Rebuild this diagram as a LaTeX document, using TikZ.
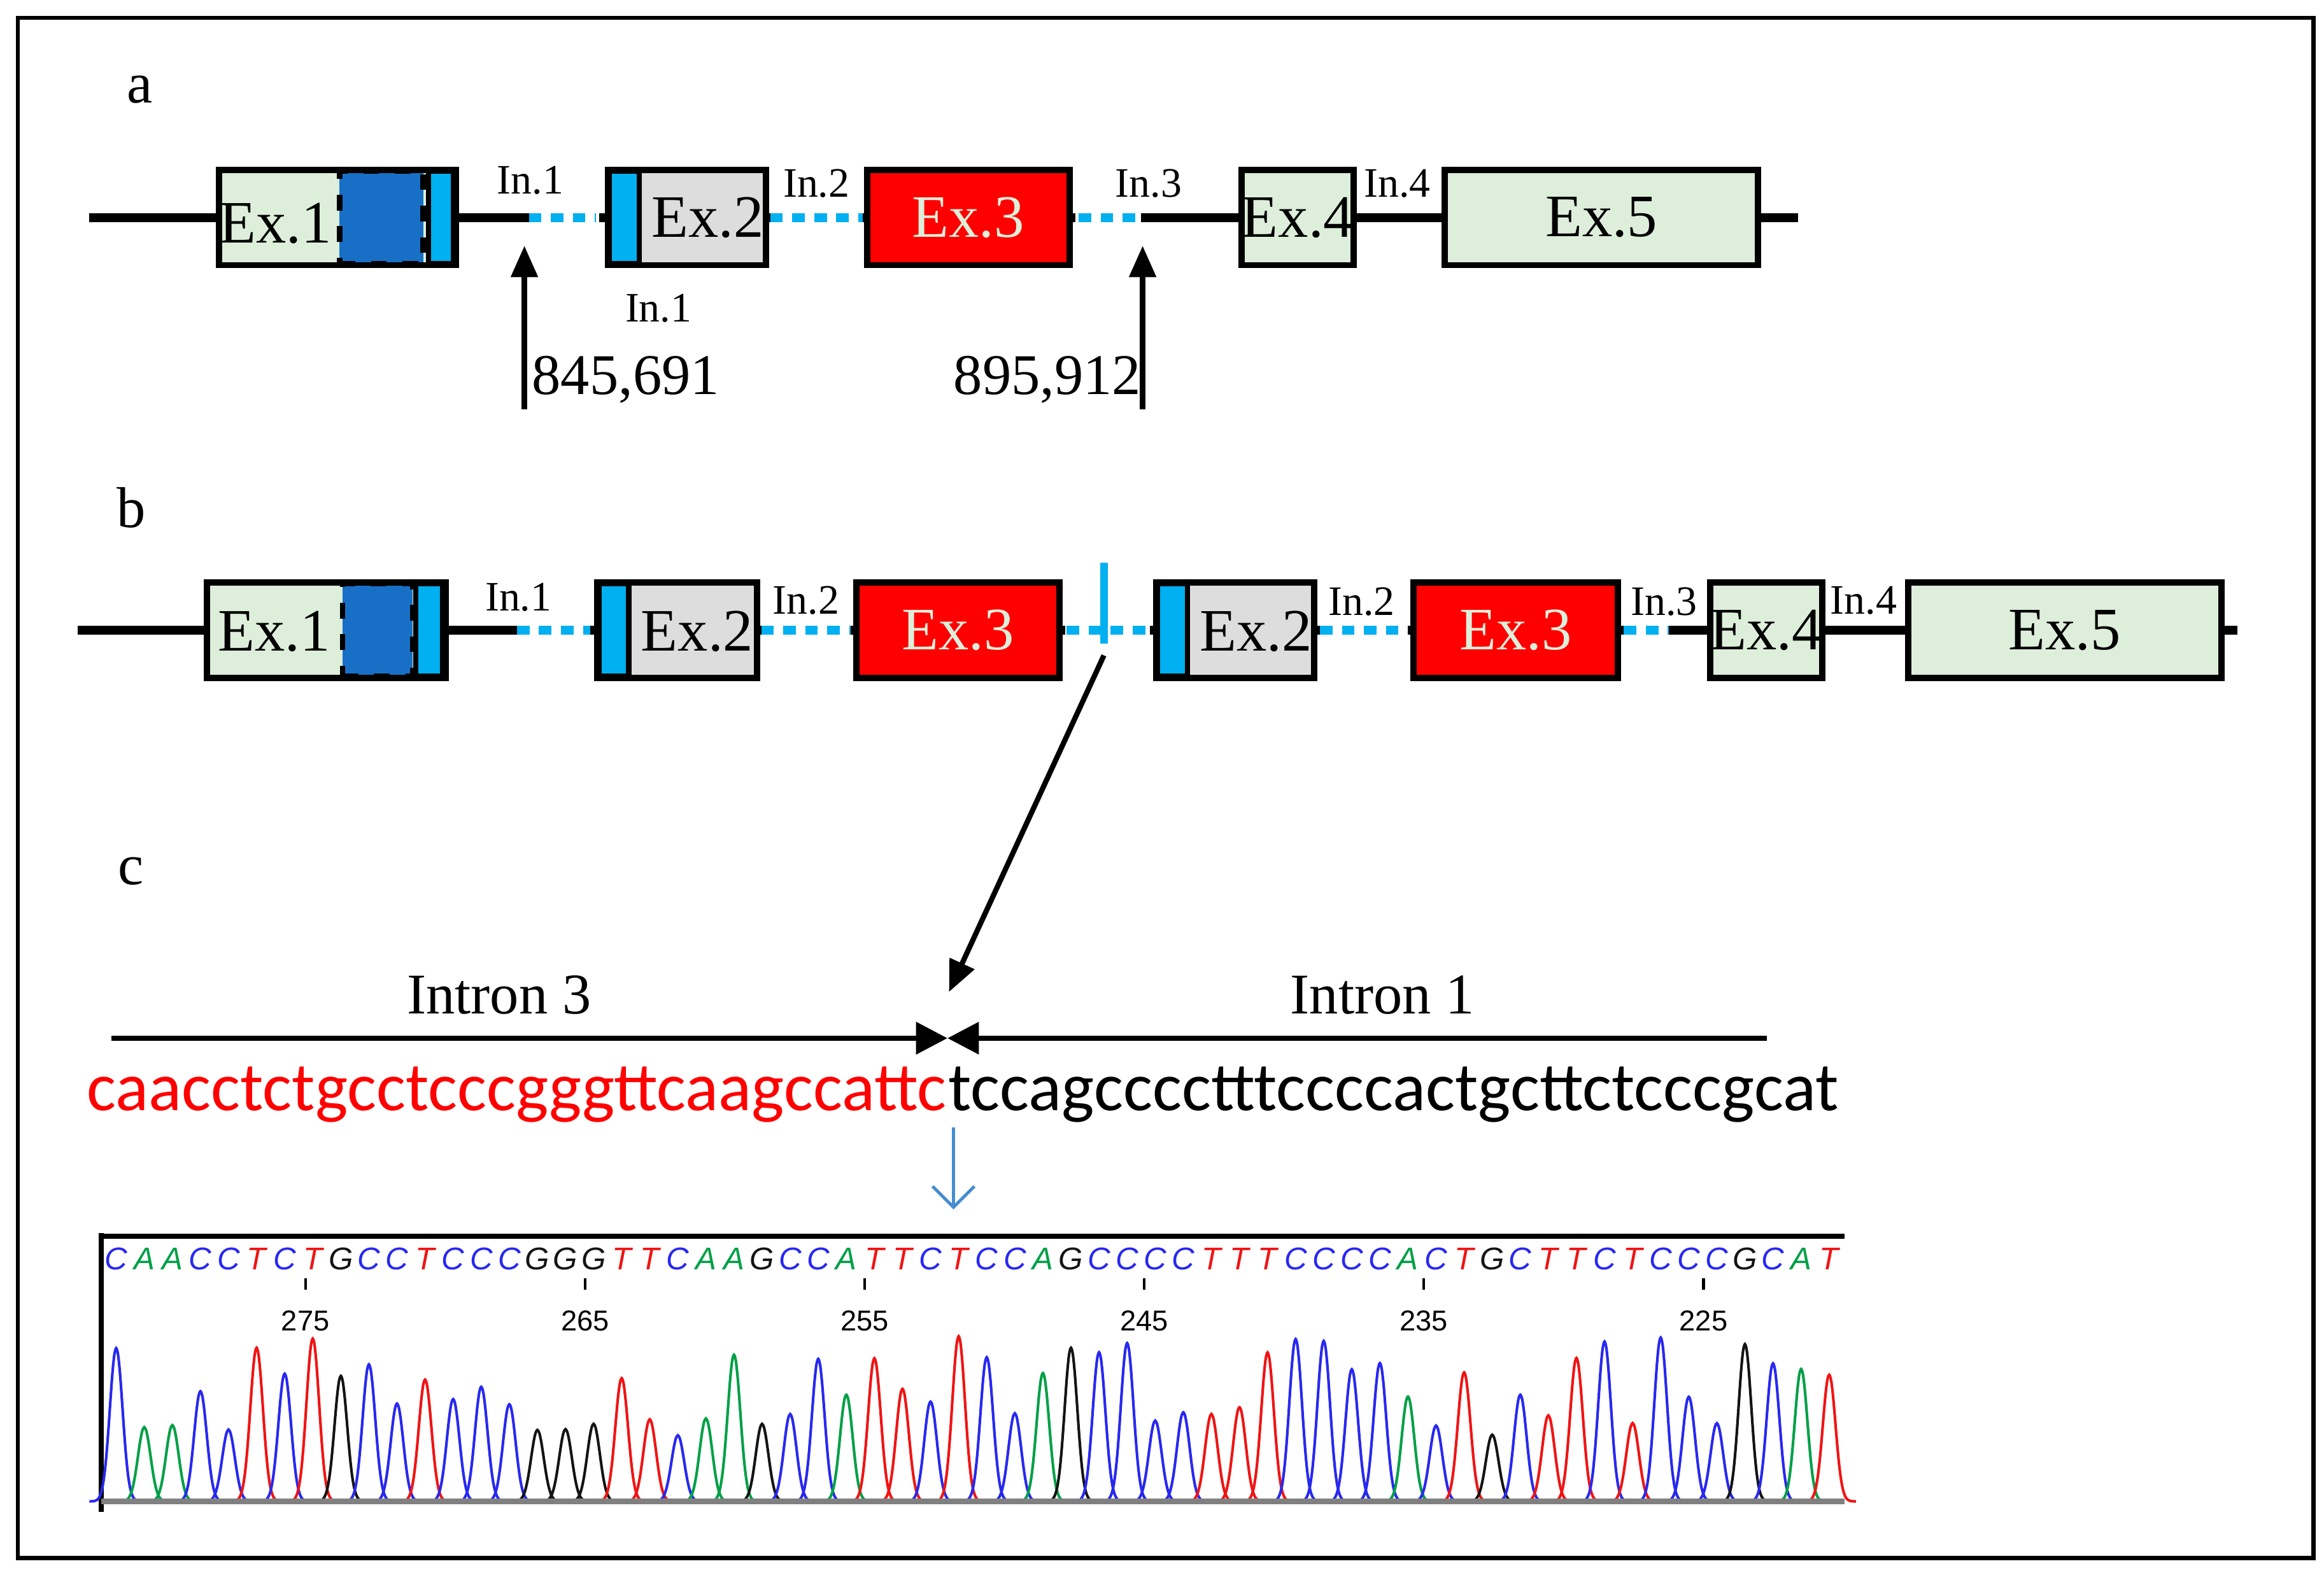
\documentclass[tikz,border=0pt]{standalone}
\usepackage{fontspec}
\setmainfont{Liberation Serif}
\newfontfamily\seqfont{Carlito}
\newfontfamily\chromfont{Liberation Sans}
\usetikzlibrary{arrows.meta}
\definecolor{exgreen}{RGB}{221,239,218}
\definecolor{exgrey}{RGB}{221,221,221}
\definecolor{exred}{RGB}{255,0,0}
\definecolor{cdsdark}{RGB}{24,112,198}
\definecolor{cdslight}{RGB}{0,176,240}
\definecolor{baseA}{RGB}{0,160,70}
\definecolor{baseC}{RGB}{40,40,240}
\definecolor{baseG}{RGB}{20,20,20}
\definecolor{baseT}{RGB}{240,20,20}
\begin{document}
\begin{tikzpicture}[x=0.01cm,y=-0.01cm,
  bb/.style={line width=1.7pt},
  intr/.style={cdslight,line width=1.7pt,dash pattern=on 2.4pt off 1.8pt},
  exon/.style={draw,line width=1.2pt,minimum height=0.64cm,inner sep=0pt,font=\fontsize{11.5}{12}\selectfont},
  cds/.style={draw,line width=1pt,minimum height=0.62cm,inner sep=0pt},
  lbl/.style={font=\fontsize{8}{9}\selectfont,inner sep=1pt},
  num/.style={font=\fontsize{11}{12}\selectfont},
  tip/.style={-{Triangle[length=6pt,width=5pt]},line width=1pt}]
\useasboundingbox (0,0) rectangle (1560,1056);
\draw[line width=0.8pt] (12,12) rectangle (1553,1046);
% ---- a ----
\node[num] (la) at (94,60) {a};
\draw[bb] (60,146) -- (1207,146);
\draw[line width=4pt,white] (355,146) -- (402,146) (517,146) -- (579,146) (722,146) -- (766,146);
\draw[intr] (355,146) -- (400,146) (517,146) -- (579,146) (724,146) -- (768,146);
\node[exon,fill=exgreen,minimum width=1.59cm] (a1) at (226.5,146) {};
\node[cds,fill=cdsdark,dashed,minimum width=0.56cm] (a1d) at (256,146) {};
\node[cds,fill=cdslight,minimum width=0.17cm] (a1l) at (296,146) {};
\node[draw,line width=1.2pt,minimum width=1.59cm,minimum height=0.64cm] (a1f) at (226.5,146) {};
\node[font=\fontsize{11.5}{13}\selectfont] (a1t) at (185,150) {Ex.1};
\node[exon,fill=exgrey,minimum width=1.06cm] (a2) at (461,146) {};
\node[cds,fill=cdslight,minimum width=0.20cm] (a2l) at (419,146) {};
\node[font=\fontsize{11.5}{13}\selectfont] (a2t) at (475,146) {Ex.2};
\node[exon,fill=exred,minimum width=1.36cm,text=exgreen] (a3) at (650,146) {Ex.3};
\node[exon,fill=exgreen,minimum width=0.70cm] (a4) at (871,146) {Ex.4};
\node[exon,fill=exgreen,minimum width=2.10cm] (a5) at (1075,146) {Ex.5};
\node[lbl] (ai1) at (356,121) {In.1};
\node[lbl] (ai2) at (548,123) {In.2};
\node[lbl] (ai3) at (771,123) {In.3};
\node[lbl] (ai4) at (938,123) {In.4};
\node[lbl] (ai1b) at (442,207) {In.1};
\coordinate (p1) at (352,275); \coordinate (q1) at (352,165);
\coordinate (p2) at (767,275); \coordinate (q2) at (767,165);
\draw[tip] (p1) -- (q1);
\draw[tip] (p2) -- (q2);
\node[num] (n1) at (420,255) {845,691};
\node[num] (n2) at (703,255) {895,912};
% ---- b ----
\node[num] (lb) at (88,341) {b};
\draw[bb] (52,423) -- (1502,423);
\draw[line width=4pt,white] (347,423) -- (396,423) (511,423) -- (571,423) (715,423) -- (772,423) (886,423) -- (945,423) (1090,423) -- (1120,423);
\draw[intr] (347,423) -- (396,423) (511,423) -- (571,423) (716,423) -- (772,423) (886,423) -- (945,423) (1090,423) -- (1120,423);
\draw[cdslight,line width=1.5pt] (741,378) -- (741,432);
\node[exon,fill=exgreen,minimum width=1.60cm] (b1) at (219,423) {};
\node[cds,fill=cdsdark,dashed,minimum width=0.47cm] (b1d) at (253.5,423) {};
\node[cds,fill=cdslight,minimum width=0.18cm] (b1l) at (288,423) {};
\node[draw,line width=1.2pt,minimum width=1.60cm,minimum height=0.64cm] (b1f) at (219,423) {};
\node[font=\fontsize{11.5}{13}\selectfont] (b1t) at (184,424) {Ex.1};
\node[exon,fill=exgrey,minimum width=1.07cm] (b2) at (454.5,423) {};
\node[cds,fill=cdslight,minimum width=0.20cm] (b2l) at (412,423) {};
\node[font=\fontsize{11.5}{13}\selectfont] (b2t) at (468,424) {Ex.2};
\node[exon,fill=exred,minimum width=1.36cm,text=exgreen] (b3) at (643,423) {Ex.3};
\node[exon,fill=exgrey,minimum width=1.06cm] (b4) at (829,423) {};
\node[cds,fill=cdslight,minimum width=0.20cm] (b4l) at (787,423) {};
\node[font=\fontsize{11.5}{13}\selectfont] (b4t) at (843,424) {Ex.2};
\node[exon,fill=exred,minimum width=1.37cm,text=exgreen] (b5) at (1017.5,423) {Ex.3};
\node[exon,fill=exgreen,minimum width=0.71cm] (b6) at (1185.5,423) {Ex.4};
\node[exon,fill=exgreen,minimum width=2.10cm] (b7) at (1386,423) {Ex.5};
\node[lbl] (bi1) at (348,401) {In.1};
\node[lbl] (bi2) at (541,403) {In.2};
\node[lbl] (bi2b) at (914,404) {In.2};
\node[lbl] (bi3) at (1117,404) {In.3};
\node[lbl] (bi4) at (1251,403) {In.4};
% ---- c ----
\coordinate (jb) at (741,440);
\coordinate (jc) at (637,666);
\draw[tip] (jb) -- (jc);
\node[num] (lc) at (88,585) {c};
\node[num] (int3) at (335,668) {Intron 3};
\node[num] (int1) at (928,668) {Intron 1};
\coordinate (l3) at (75,697); \coordinate (l1) at (1186,697); \coordinate (jn) at (636,697);
\draw[line width=1pt,-{Triangle[length=6pt,width=6pt]}] (l3) -- (jn);
\draw[line width=1pt,-{Triangle[length=6pt,width=6pt]}] (l1) -- (jn);
\node[anchor=east,inner sep=0pt,text=exred,font=\seqfont\fontsize{13.2}{14}\selectfont] (sr) at (636,735) {caacctctgcctcccgggttcaagccattc};
\node[anchor=west,inner sep=0pt,font=\seqfont\fontsize{13.2}{14}\selectfont] (sb) at (636,735) {tccagcccctttccccactgcttctcccgcat};
\coordinate (ba) at (640,757); \coordinate (bz) at (640,812);
\draw[-{Straight Barb[length=4pt]},color=cdsdark!80,line width=0.6pt] (ba) -- (bz);
% chromatogram
\draw[line width=0.9pt] (68,830) -- (1238,830);
\draw[line width=1pt] (68,828) -- (68,1015);
\pgfmathsetseed{7}
\foreach \b [count=\i] in {C,A,A,C,C,T,C,T,G,C,C,T,C,C,C,G,G,G,T,T,C,A,A,G,C,C,A,T,T,C,T,C,C,A,G,C,C,C,C,T,T,T,C,C,C,C,A,C,T,G,C,T,T,C,T,C,C,C,G,C,A,T}{
  \pgfmathsetmacro\xp{78+18.85*(\i-1)}
  \pgfmathsetmacro\hp{40+72*rnd}
  \node[text=base\b,font=\chromfont\itshape\fontsize{6}{6}\selectfont,inner sep=0pt] (k\i) at (\xp,845) {\b};
  \draw[base\b,line width=0.5pt] plot[domain=-18:18,samples=29,smooth] ({\xp+\x},{1008-\hp*exp(-(\x/6)^2)});
}
\foreach \n [count=\j] in {275,265,255,245,235,225}{
  \pgfmathsetmacro\xt{205+187.7*(\j-1)}
  \draw[line width=0.5pt] (\xt,858) -- (\xt,866);
  \node[font=\chromfont\fontsize{5.5}{6}\selectfont,inner sep=0pt] (t\j) at (\xt,887) {\n};
}
\draw[line width=1pt,gray] (68,1008) -- (1238,1008);
\end{tikzpicture}
\end{document}
